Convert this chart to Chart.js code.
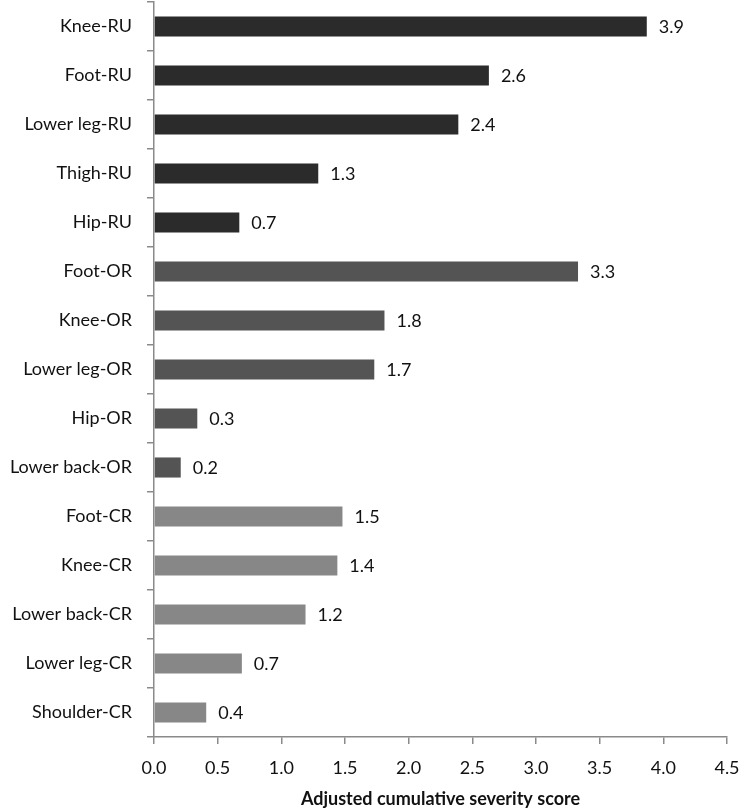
<!DOCTYPE html>
<html>
<head>
<meta charset="utf-8">
<script src="https://cdn.jsdelivr.net/npm/chart.js@4"></script>
<style>
  html, body { margin: 0; padding: 0; background: #fff; }
  #wrap { width: 740px; height: 812px; position: relative; }
</style>
</head>
<body>
<div id="wrap"><canvas id="chart"></canvas></div>
<script>
const categories = [
  'Knee-RU', 'Foot-RU', 'Lower leg-RU', 'Thigh-RU', 'Hip-RU',
  'Foot-OR', 'Knee-OR', 'Lower leg-OR', 'Hip-OR', 'Lower back-OR',
  'Foot-CR', 'Knee-CR', 'Lower back-CR', 'Lower leg-CR', 'Shoulder-CR'
];
const scores = [
  3.87, 2.63, 2.39, 1.29, 0.67,
  3.33, 1.81, 1.73, 0.34, 0.21,
  1.48, 1.44, 1.19, 0.69, 0.41
];
const groups = [
  'RU', 'RU', 'RU', 'RU', 'RU',
  'OR', 'OR', 'OR', 'OR', 'OR',
  'CR', 'CR', 'CR', 'CR', 'CR'
];
const xTicks = [0, 0.5, 1, 1.5, 2, 2.5, 3, 3.5, 4, 4.5];
const axisTitle = 'Adjusted cumulative severity score';

const groupColor = { RU: '#2b2b2b', OR: '#545454', CR: '#878787' };
const FONT = 'Lato, "Open Sans", sans-serif';
const axisGray = '#8a8a8a';

// value labels to the right of each bar
const valueLabels = {
  id: 'valueLabels',
  afterDatasetsDraw(chart) {
    const ctx = chart.ctx;
    const meta = chart.getDatasetMeta(0);
    ctx.save();
    ctx.font = '18px ' + FONT;
    ctx.fillStyle = '#111';
    ctx.textAlign = 'left';
    ctx.textBaseline = 'middle';
    meta.data.forEach((bar, i) => {
      ctx.fillText(scores[i].toFixed(1), bar.x + 12, bar.y + 1);
    });
    ctx.restore();
  }
};

new Chart(document.getElementById('chart'), {
  type: 'bar',
  data: {
    labels: categories,
    datasets: [{
      data: scores,
      backgroundColor: groups.map((g) => groupColor[g]),
      borderWidth: 0,
      barPercentage: 0.41,
      categoryPercentage: 1,
    }],
  },
  options: {
    indexAxis: 'y',
    responsive: true,
    maintainAspectRatio: false,
    animation: false,
    layout: { padding: { top: 2, right: 13, left: 0, bottom: 0 } },
    scales: {
      x: {
        min: 0,
        max: 4.5,
        afterBuildTicks: (axis) => { axis.ticks = xTicks.map((v) => ({ value: v })); },
        afterFit: (axis) => {
          axis.height = 75;
          axis.paddingLeft = 0;
          axis.paddingRight = 0;
        },
        grid: { drawOnChartArea: false, color: axisGray, tickLength: 7, lineWidth: 1.5 },
        border: { color: axisGray, width: 1.5 },
        ticks: {
          color: '#111',
          font: { family: FONT, size: 18 },
          padding: 13,
          maxRotation: 0,
          callback: (v) => Number(v).toFixed(1),
        },
        title: {
          display: true,
          text: axisTitle,
          color: '#111',
          font: { family: FONT, size: 18, weight: 'bold' },
          padding: { top: 4, bottom: 2 },
        },
      },
      y: {
        afterFit: (axis) => {
          axis.width = 154;
          axis.paddingTop = 0;
          axis.paddingBottom = 0;
        },
        grid: { drawOnChartArea: false, color: axisGray, tickLength: 7, lineWidth: 1.5, offset: true },
        border: { color: axisGray, width: 1.5 },
        ticks: {
          color: '#111',
          font: { family: FONT, size: 18 },
          padding: 15,
        },
      },
    },
    plugins: {
      legend: { display: false },
      tooltip: { enabled: false },
    },
  },
  plugins: [valueLabels],
});
</script>
</body>
</html>
